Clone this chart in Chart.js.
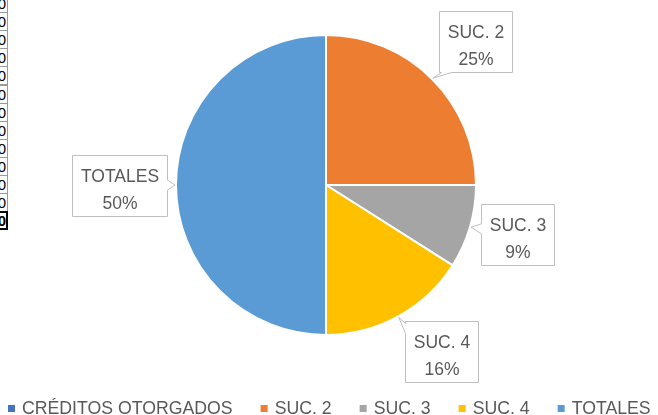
<!DOCTYPE html>
<html>
<head>
<meta charset="utf-8">
<script src="https://cdn.jsdelivr.net/npm/chart.js@4.4.1/dist/chart.umd.min.js"></script>
<style>
  html, body { margin: 0; padding: 0; background: #fff; overflow: hidden; }
  #wrap { position: relative; width: 658px; height: 415px; }
  #cells { position: absolute; left: 0; top: 0; width: 9px; height: 240px; overflow: hidden; }
  #cells div {
    position: absolute; left: -13px; width: 21px; height: 19px; box-sizing: border-box;
    border: 1px solid #9a9a9a; font: 15px "Liberation Sans", Arial, sans-serif; color: #000;
    text-align: right; line-height: 17px; padding-right: 1px; background: #fff;
  }
</style>
</head>
<body>
<div id="wrap">
  <canvas id="chart" width="658" height="415"></canvas>
  <div id="cells"></div>
</div>
<script>
// valores del gráfico
const labels = ["CRÉDITOS OTORGADOS", "SUC. 2", "SUC. 3", "SUC. 4", "TOTALES"];
const values = [0, 25, 9, 16, 50];
const colors = ["#4472C4", "#ED7D31", "#A5A5A5", "#FFC000", "#5B9BD5"];

// ajuste manual de las etiquetas (como si se hubieran arrastrado en Excel)
const labelNudge = [[0, 0], [4, 2], [-6, -8], [16, -14], [-1, 0]];

const LABEL_FONT = '17.5px "Liberation Sans", Arial, sans-serif';
const LEGEND_FONT = '17.7px "Liberation Sans", Arial, sans-serif';
const TEXT = "#595959";

// recorte de celdas de la hoja que asoma por la izquierda
const cells = document.getElementById("cells");
for (let i = 0; i < 13; i++) {
  const d = document.createElement("div");
  d.style.top = (-6 + i * 18.1) + "px";
  d.textContent = "0";
  if (i === 12) { d.style.border = "2px solid #000"; d.style.fontWeight = "bold"; d.style.lineHeight = "15px"; d.style.paddingRight = "0px"; }
  cells.appendChild(d);
}

function calloutPath(ctx, x0, y0, x1, y1, tx, ty) {
  const cx = (x0 + x1) / 2, cy = (y0 + y1) / 2, hw = (x1 - x0) / 2, hh = (y1 - y0) / 2;
  const dx = tx - cx, dy = ty - cy;
  const t = Math.min(hw / Math.max(Math.abs(dx), 1e-6), hh / Math.max(Math.abs(dy), 1e-6));
  const ex = cx + dx * t, ey = cy + dy * t;
  const side = Math.abs(dx) * hh > Math.abs(dy) * hw ? (dx > 0 ? "r" : "l") : (dy > 0 ? "b" : "t");
  const n = 5;
  const clamp = (v, a, b) => Math.max(a, Math.min(b, v));
  ctx.beginPath();
  ctx.moveTo(x0, y0);
  if (side === "t") { const bx = clamp(ex, x0 + n + 2, x1 - n - 2); ctx.lineTo(bx - n, y0); ctx.lineTo(tx, ty); ctx.lineTo(bx + n, y0); }
  ctx.lineTo(x1, y0);
  if (side === "r") { const by = clamp(ey, y0 + n + 2, y1 - n - 2); ctx.lineTo(x1, by - n); ctx.lineTo(tx, ty); ctx.lineTo(x1, by + n); }
  ctx.lineTo(x1, y1);
  if (side === "b") { const bx = clamp(ex, x0 + n + 2, x1 - n - 2); ctx.lineTo(bx + n, y1); ctx.lineTo(tx, ty); ctx.lineTo(bx - n, y1); }
  ctx.lineTo(x0, y1);
  if (side === "l") { const by = clamp(ey, y0 + n + 2, y1 - n - 2); ctx.lineTo(x0, by + n); ctx.lineTo(tx, ty); ctx.lineTo(x0, by - n); }
  ctx.closePath();
}

const callouts = {
  id: "callouts",
  afterDatasetsDraw(chart) {
    const {ctx} = chart;
    const meta = chart.getDatasetMeta(0);
    const total = values.reduce((a, b) => a + b, 0);
    ctx.save();
    ctx.font = LABEL_FONT;
    meta.data.forEach((arc, i) => {
      if (!values[i]) return;
      const p = arc.getProps(["x", "y", "startAngle", "endAngle", "outerRadius"], true);
      const mid = (p.startAngle + p.endAngle) / 2;
      const r = p.outerRadius;
      const cx = p.x + Math.cos(mid) * r * 1.37 + labelNudge[i][0];
      const cy = p.y + Math.sin(mid) * r * 1.37 + labelNudge[i][1];
      const tx = p.x + Math.cos(mid) * (r + 1);
      const ty = p.y + Math.sin(mid) * (r + 1);
      const lines = [labels[i], Math.round(values[i] / total * 100) + "%"];
      const w = Math.round(Math.max(...lines.map(l => ctx.measureText(l).width)) + 17);
      const h = 61;
      const x0 = Math.round(cx - w / 2) + 0.5, y0 = Math.round(cy - h / 2) + 0.5;
      calloutPath(ctx, x0, y0, x0 + w, y0 + h, tx, ty);
      ctx.fillStyle = "#fff";
      ctx.fill();
      ctx.strokeStyle = "#BFBFBF";
      ctx.lineWidth = 1;
      ctx.stroke();
      ctx.fillStyle = TEXT;
      ctx.textAlign = "center";
      ctx.textBaseline = "alphabetic";
      const mx = x0 + w / 2;
      ctx.fillText(lines[0], mx, y0 + 26);
      ctx.fillText(lines[1], mx, y0 + 53);
    });
    ctx.restore();
  }
};

const bottomLegend = {
  id: "bottomLegend",
  afterDraw(chart) {
    const {ctx, width} = chart;
    ctx.save();
    ctx.font = LEGEND_FONT;
    const box = 7, gapBox = 7, gap = 28;
    const widths = labels.map(l => box + gapBox + ctx.measureText(l).width);
    const total = widths.reduce((a, b) => a + b, 0) + gap * (labels.length - 1);
    let x = Math.round((width - total) / 2);
    labels.forEach((l, i) => {
      ctx.fillStyle = colors[i];
      ctx.fillRect(x, 405, box, box);
      ctx.fillStyle = TEXT;
      ctx.textAlign = "left";
      ctx.textBaseline = "alphabetic";
      ctx.fillText(l, x + box + gapBox, 414);
      x += widths[i] + gap;
    });
    ctx.restore();
  }
};

new Chart(document.getElementById("chart").getContext("2d"), {
  type: "pie",
  data: {
    labels: labels,
    datasets: [{
      data: values,
      backgroundColor: colors,
      borderColor: "#fff",
      borderWidth: 2,
      radius: 150
    }]
  },
  options: {
    responsive: false,
    animation: false,
    layout: { padding: { top: 0, bottom: 45, left: 0, right: 6 } },
    plugins: {
      legend: { display: false },
      tooltip: { enabled: false }
    }
  },
  plugins: [callouts, bottomLegend]
});
</script>
</body>
</html>
